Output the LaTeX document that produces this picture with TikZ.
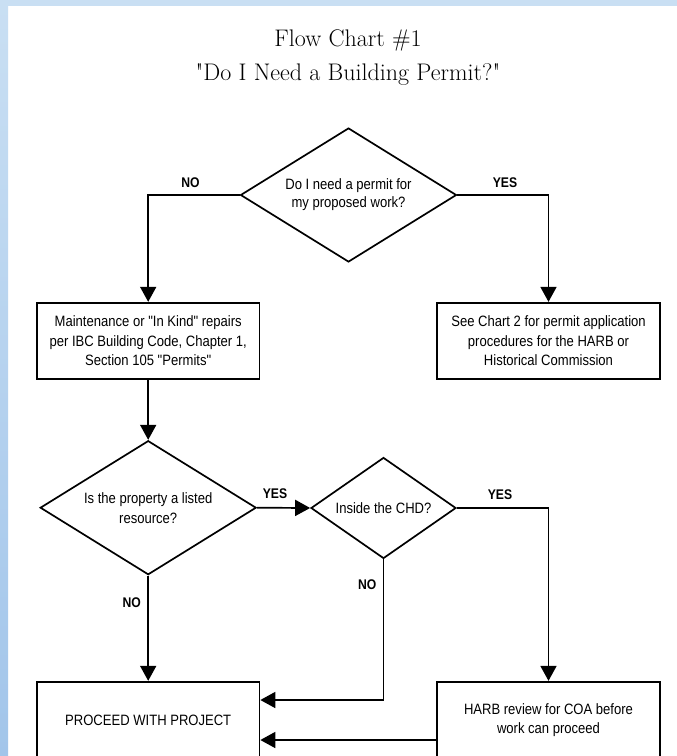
\documentclass[tikz,border=0pt]{standalone}
\usepackage{fontspec}
\newfontfamily\boxfont[FakeStretch=0.87]{Liberation Sans}
\newfontfamily\titlefont{Latin Modern Roman}
\usetikzlibrary{shapes.geometric,arrows.meta}
\definecolor{stripA}{HTML}{C9DFF3}
\definecolor{stripB}{HTML}{A2C5EA}
\begin{document}
\begin{tikzpicture}[x=1pt,y=-1pt,
  line/.style={line width=1.7pt},
  arr/.style={line, -{Triangle[length=15pt,width=16pt]}},
  box/.style={draw, line width=1.7pt, minimum width=222.6pt, minimum height=76.6pt, inner sep=0pt, align=center, font=\boxfont\fontsize{15}{19.5}\selectfont},
  dec/.style={draw, diamond, line width=1.7pt, inner sep=0pt, align=center, font=\boxfont\fontsize{15}{18}\selectfont},
  lab/.style={font=\boxfont\bfseries\fontsize{14}{16}\selectfont, inner sep=0pt},
  ttl/.style={font=\titlefont\fontsize{24}{28}\selectfont, anchor=base, inner sep=0pt},
]
\useasboundingbox (0,0) rectangle (677,756);
\fill[white] (0,0) rectangle (677,756);
\fill[stripA] (0,0) rectangle (677,6);
\shade[top color=stripA, bottom color=stripB] (0,0) rectangle (8,756);

\node[ttl] (t1) at (348,46) {Flow Chart \#1};
\node[ttl] (t2) at (348,80) {"Do I Need a Building Permit?"};

\node[dec, minimum width=216pt, minimum height=134pt, aspect=1.6] (d1) at (348.5,195) {Do I need a permit for\\my proposed work?};
\node[box] (b1) at (148.2,341) {Maintenance or "In Kind" repairs\\per IBC Building Code, Chapter 1,\\Section 105 "Permits"};
\node[box] (b2) at (548.5,341) {See Chart 2 for permit application\\procedures for the HARB or\\Historical Commission};
\node[dec, minimum width=216pt, minimum height=134pt, aspect=1.6, font=\boxfont\fontsize{15}{20}\selectfont] (d2) at (148.2,507.7) {Is the property a listed\\resource?};
\node[dec, minimum width=145pt, minimum height=101pt, aspect=1.44] (d3) at (383.5,508) {Inside the CHD?};
\node[box] (b3) at (148.2,720) {PROCEED WITH PROJECT};
\node[box] (b4) at (548.5,720) {HARB review for COA before\\work can proceed};

\draw[arr] (d1.west) -| (b1.north);
\draw[arr] (d1.east) -| (b2.north);
\draw[arr] (b1.south) -- (d2.north);
\draw[arr] (d2.east) -- (d3.west);
\draw[arr] (d3.east) -| (b4.north);
\draw[arr] (d2.south) -- (b3.north);
\draw[arr] (d3.south) |- ([yshift=20pt]b3.east);
\draw[arr] ([yshift=-20pt]b4.west) -- ([yshift=-20pt]b3.east);

\node[lab] (no1) at (190.5,183) {NO};
\node[lab] (yes1) at (505,183) {YES};
\node[lab] (yes2) at (275,494) {YES};
\node[lab] (yes3) at (500,495) {YES};
\node[lab] (no2) at (367.3,585) {NO};
\node[lab] (no3) at (131.7,602.7) {NO};
\end{tikzpicture}
\end{document}
